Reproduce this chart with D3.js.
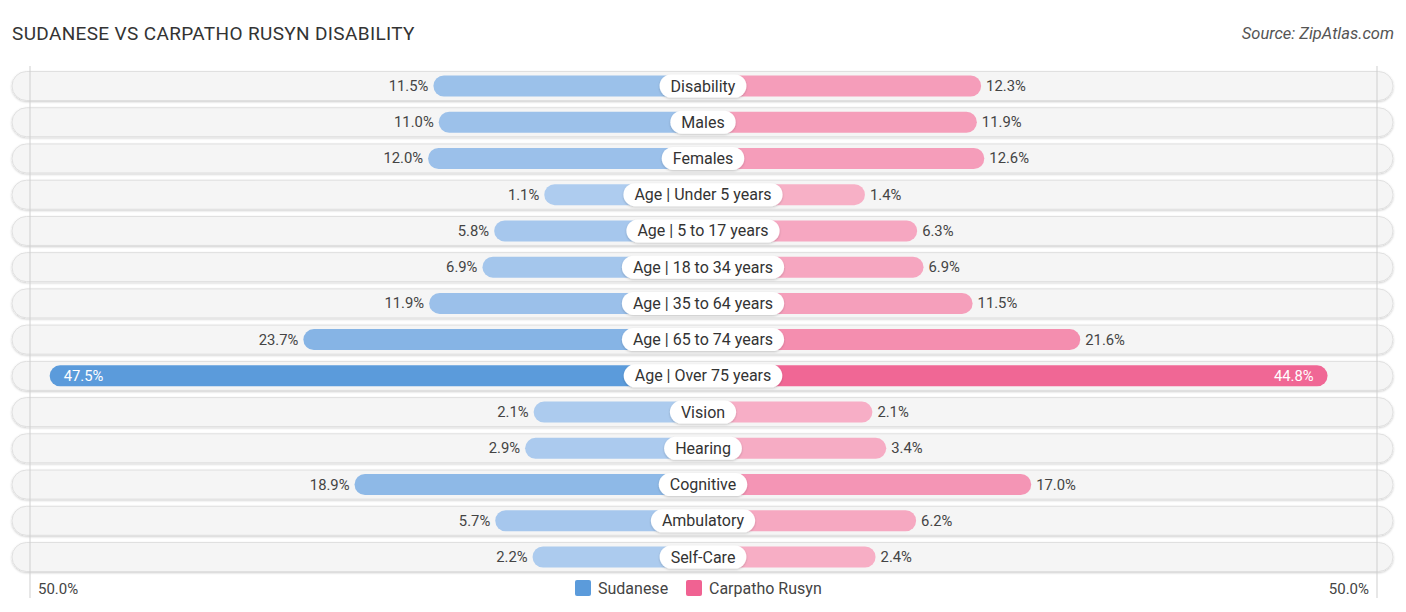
<!DOCTYPE html>
<html>
<head>
<style>
  body {
    background-color: white;
    margin: 0px;
    font-family: Roboto, "Open Sans", sans-serif;
  }
</style>
<script src="https://cdn.jsdelivr.net/npm/d3@7"></script>
</head>
<body>
<svg></svg>
<script>
const categories = ["Disability", "Males", "Females", "Age | Under 5 years", "Age | 5 to 17 years",
  "Age | 18 to 34 years", "Age | 35 to 64 years", "Age | 65 to 74 years", "Age | Over 75 years",
  "Vision", "Hearing", "Cognitive", "Ambulatory", "Self-Care"];
const sudanese = [11.5, 11.0, 12.0, 1.1, 5.8, 6.9, 11.9, 23.7, 47.5, 2.1, 2.9, 18.9, 5.7, 2.2];
const rusyn = [12.3, 11.9, 12.6, 1.4, 6.3, 6.9, 11.5, 21.6, 44.8, 2.1, 3.4, 17.0, 6.2, 2.4];
const seriesNames = ["Sudanese", "Carpatho Rusyn"];
const axisLabels = ["50.0%", "50.0%"];

const width = 1406, height = 612, cx = 703;

const svg = d3.select("svg").attr("width", width).attr("height", height);

const defs = svg.append("defs");
const sh = defs.append("filter").attr("id", "sh").attr("x", "-20%").attr("y", "-40%").attr("width", "140%").attr("height", "180%");
sh.append("feDropShadow").attr("dx", 0).attr("dy", 1).attr("stdDeviation", 1.2).attr("flood-color", "#000").attr("flood-opacity", 0.2);

// half-width of a bar from the centre line
const w = d3.scaleLinear().domain([0, 50]).range([147, 680]);
const y = d3.scalePoint().domain(categories).range([86, 557]);

const blue = d3.scaleLinear().domain([0, 47.5]).range(["#b0cdef", "#5b9bdb"]).interpolate(d3.interpolateRgb);
const pink = d3.scaleLinear().domain([0, 47.5]).range(["#f7b2c8", "#f06292"]).interpolate(d3.interpolateRgb);

svg.append("text").attr("x", 12).attr("y", 40)
  .attr("font-size", 19).attr("fill", "#333").attr("letter-spacing", 0.35)
  .text("SUDANESE VS CARPATHO RUSYN DISABILITY");
svg.append("text").attr("x", 1394).attr("y", 39).attr("text-anchor", "end")
  .attr("font-size", 16.5).attr("font-style", "italic").attr("fill", "#555")
  .text("Source: ZipAtlas.com");

// row backgrounds
svg.selectAll("rect.bg").data(categories).join("rect").attr("class", "bg")
  .attr("x", 12).attr("y", d => y(d) - 14.5).attr("width", 1381).attr("height", 29)
  .attr("rx", 14.5).attr("fill", "#f5f5f5").attr("stroke", "#e0e0e0").attr("stroke-width", 1)
  .attr("filter", "url(#sh)");

// grid lines at 50%
svg.selectAll("line.grid").data([cx - w(50) + 7, cx + w(50) - 6]).join("line")
  .attr("x1", d => d).attr("x2", d => d).attr("y1", 66).attr("y2", 598)
  .attr("stroke", "#cfcfcf").attr("stroke-width", 1);

const rows = svg.selectAll("g.row").data(categories).join("g")
  .attr("transform", d => `translate(0,${y(d)})`);

rows.append("rect")
  .attr("x", (d, i) => cx - w(sudanese[i])).attr("y", -10.5)
  .attr("width", (d, i) => w(sudanese[i])).attr("height", 21).attr("rx", 10.5)
  .attr("fill", (d, i) => blue(sudanese[i]));
rows.append("rect")
  .attr("x", cx).attr("y", -10.5)
  .attr("width", (d, i) => w(rusyn[i])).attr("height", 21).attr("rx", 10.5)
  .attr("fill", (d, i) => pink(rusyn[i]));

// value labels
rows.append("text")
  .attr("x", (d, i) => sudanese[i] > 40 ? cx - w(sudanese[i]) + 14 : cx - w(sudanese[i]) - 5)
  .attr("y", 5).attr("font-size", 14.8)
  .attr("text-anchor", (d, i) => sudanese[i] > 40 ? "start" : "end")
  .attr("fill", (d, i) => sudanese[i] > 40 ? "#fff" : "#444")
  .text((d, i) => sudanese[i].toFixed(1) + "%");
rows.append("text")
  .attr("x", (d, i) => rusyn[i] > 40 ? cx + w(rusyn[i]) - 14 : cx + w(rusyn[i]) + 5)
  .attr("y", 5).attr("font-size", 14.8)
  .attr("text-anchor", (d, i) => rusyn[i] > 40 ? "end" : "start")
  .attr("fill", (d, i) => rusyn[i] > 40 ? "#fff" : "#444")
  .text((d, i) => rusyn[i].toFixed(1) + "%");

// category labels
rows.each(function(d) {
  const g = d3.select(this);
  const pill = g.append("rect");
  const t = g.append("text").attr("x", cx).attr("y", 5.5).attr("text-anchor", "middle")
    .attr("font-size", 16).attr("fill", "#333").text(d);
  const tw = t.node().getComputedTextLength() + 22;
  pill.attr("x", cx - tw / 2).attr("y", -11.5).attr("width", tw).attr("height", 23)
    .attr("rx", 11.5).attr("fill", "#fff").attr("filter", "url(#sh)");
});

// axis labels
svg.append("text").attr("x", 38).attr("y", 594).attr("font-size", 15).attr("fill", "#444").text(axisLabels[0]);
svg.append("text").attr("x", 1369).attr("y", 594).attr("text-anchor", "end").attr("font-size", 15).attr("fill", "#444").text(axisLabels[1]);

// legend
const legendX = [575, 686];
const lg = svg.selectAll("g.leg").data(seriesNames).join("g")
  .attr("transform", (d, i) => `translate(${legendX[i]},580)`);
lg.append("rect").attr("width", 16).attr("height", 16).attr("rx", 2)
  .attr("fill", (d, i) => i === 0 ? "#5b9bdb" : "#f06292");
lg.append("text").attr("x", 23).attr("y", 14).attr("font-size", 16).attr("fill", "#444").text(d => d);
</script>
</body>
</html>
